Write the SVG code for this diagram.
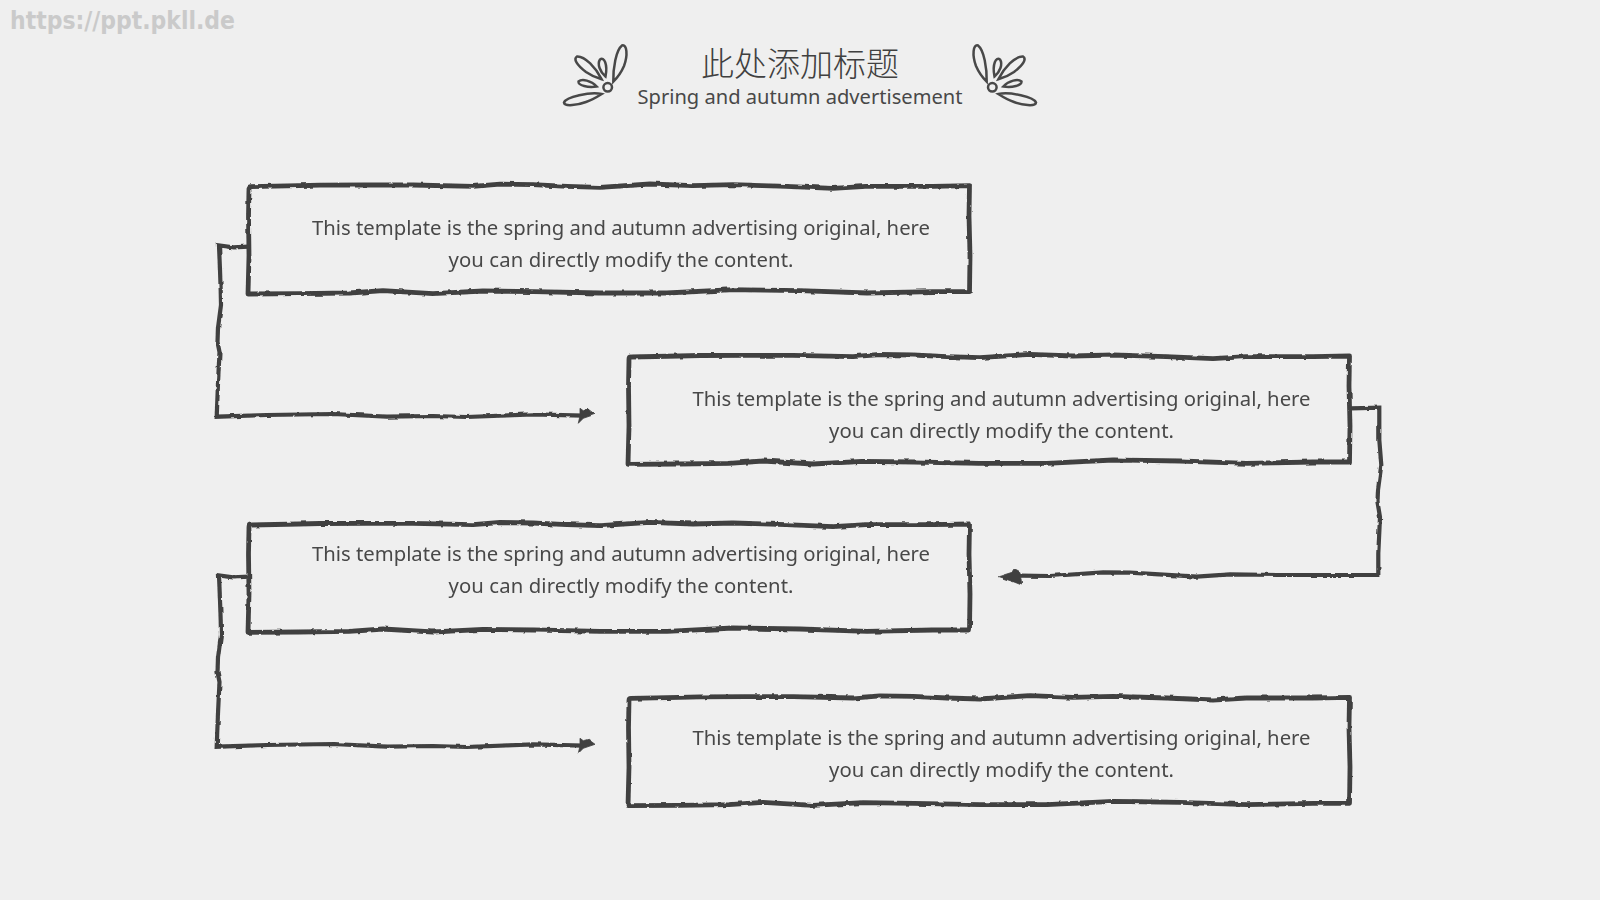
<svg xmlns="http://www.w3.org/2000/svg" width="1600" height="900" viewBox="0 0 1600 900">
<style>
.bg{fill:#efefef}
.edge{fill:none;stroke:#404040;stroke-width:4.8;stroke-linejoin:round;stroke-linecap:square}
.conn{fill:none;stroke:#404040;stroke-width:4.2;stroke-linejoin:miter;stroke-linecap:butt}
.head{fill:#404040;stroke:#404040;stroke-width:.8}
.petal{fill:none;stroke:#484848;stroke-width:2.5}
.body{font-family:"Noto Sans","Liberation Sans",sans-serif;font-size:20.3px;font-weight:400;fill:#484848;text-anchor:middle}
.title{font-family:"Noto Sans CJK SC",sans-serif;font-size:33px;font-weight:200;fill:#404040;text-anchor:middle}
.sub{font-family:"Noto Sans","Liberation Sans",sans-serif;font-size:20.1px;font-weight:400;fill:#484848;text-anchor:middle}
.wm{font-family:"DejaVu Sans",sans-serif;font-weight:700;font-size:24px;fill:#cacaca}
</style>
<defs>
<filter id="rough" filterUnits="userSpaceOnUse" x="0" y="0" width="1600" height="900">
<feTurbulence type="fractalNoise" baseFrequency=".11" numOctaves="2" seed="4" result="n"/>
<feDisplacementMap in="SourceGraphic" in2="n" scale="3" xChannelSelector="R" yChannelSelector="G"/>
<feGaussianBlur stdDeviation=".35"/>
</filter>
<path id="box" d="M0 3 Q0 1 2 1 L50 0 L71 -.5 L117 -.7 L164 -.7 L224 .7 L251 -1.5 L284 -1 L318 .7 L351 1.7 L401 -1.7 L444 0 L484 -1 L537 .7 L584 2.7 L617 .7 L684 .7 L720.5 0 L720 30 L721 70 L720.5 106 L684 106 L618 107.3 L551 105 L484 104 L418 107.3 L351 107.3 L285 106 L234 105.3 L184 108 L134 105 L100 107.3 L50 108 L-1 108.3 L0 70 L-.5 30 Z"/>
<g id="elbow">
<path class="conn" d="M249 246.7 L233 247.4 L219 245.5 L220 270 L220.7 290 L221 305 L218 328 L217.5 342 L219.5 352 L218 383 L216.7 416.7 L266.7 415 L333 414 L386.7 416.7 L433 416 L466.7 417 L533 414.3 L583 415.7"/>
<polygon class="head" points="580,408.3 583.3,410.7 588.3,409.3 595,414.3 583.3,418.3 578.3,423.3 580,415.7"/>
</g>
<g id="leaf">
<circle class="petal" cx="607.7" cy="87.3" r="4.3"/>
<path class="petal" d="M613.3 81.7 C613 68 616 50 622 45.5 C627 44 628 55 624 66 C621 73 617 78 613.3 81.7Z"/>
<path class="petal" d="M605.5 76.5 C600 72 597 64 600 59.5 C604 56.5 608 64 605.5 76.5Z"/>
<path class="petal" d="M601.7 79.3 C596 68 585 56 577 56.5 C573 59 577 65 586 72 C591 75.5 597 78 601.7 79.3Z"/>
<path class="petal" d="M596.7 86.5 C588 88 578 85.5 578.5 81.5 C582 78.5 591 80.5 596.7 86.5Z"/>
<path class="petal" d="M601.7 94 C590 91.5 566 97 564 102.5 C564.5 107 578 105 586 102 C592 100 597 97 601.7 94Z"/>
</g>
</defs>
<rect class="bg" width="1600" height="900"/>
<text class="wm" x="10" y="29" textLength="225" lengthAdjust="spacingAndGlyphs">https://ppt.pkll.de</text>
<g id="header">
<use href="#leaf"/>
<use href="#leaf" transform="translate(1600 0) scale(-1 1)"/>
<text class="title" x="800" y="76">此处添加标题</text>
<text class="sub" x="800" y="104" textLength="325">Spring and autumn advertisement</text>
</g>
<g id="connectors" filter="url(#rough)">
<use href="#elbow"/>
<use href="#elbow" transform="translate(0 330)"/>
<g id="connector-2">
<path class="conn" d="M1350.7 408.3 L1379.3 407.7 L1379.3 440 L1381.3 465 L1378 490 L1377.5 502 L1380 517 L1378.3 553.3 L1378.3 575 L1280 575 L1230 574.3 L1196.7 576.7 L1130 572.7 L1103.3 572.3 L1050 576 L1020 575.7"/>
<polygon class="head" points="998.3,576.7 1013,572 1015,569 1020,571.7 1021.7,585 1013.3,581.7"/>
</g>
</g>
<g id="node-1">
<g filter="url(#rough)"><use href="#box" class="edge" transform="translate(249 185.7)"/></g>
<text class="body" x="621" y="234.6" textLength="618">This template is the spring and autumn advertising original, here</text>
<text class="body" x="621" y="266.7" textLength="345">you can directly modify the content.</text></g>
<g id="node-2">
<g filter="url(#rough)"><use href="#box" class="edge" transform="translate(629 356)"/></g>
<text class="body" x="1001.5" y="405.7" textLength="618">This template is the spring and autumn advertising original, here</text>
<text class="body" x="1001.5" y="437.7" textLength="345">you can directly modify the content.</text></g>
<g id="node-3">
<g filter="url(#rough)"><use href="#box" class="edge" transform="translate(249 524)"/></g>
<text class="body" x="621" y="561" textLength="618">This template is the spring and autumn advertising original, here</text>
<text class="body" x="621" y="593.3" textLength="345">you can directly modify the content.</text></g>
<g id="node-4">
<g filter="url(#rough)"><use href="#box" class="edge" transform="translate(629 697.3)"/></g>
<text class="body" x="1001.5" y="744.6" textLength="618">This template is the spring and autumn advertising original, here</text>
<text class="body" x="1001.5" y="776.7" textLength="345">you can directly modify the content.</text></g>
</svg>
